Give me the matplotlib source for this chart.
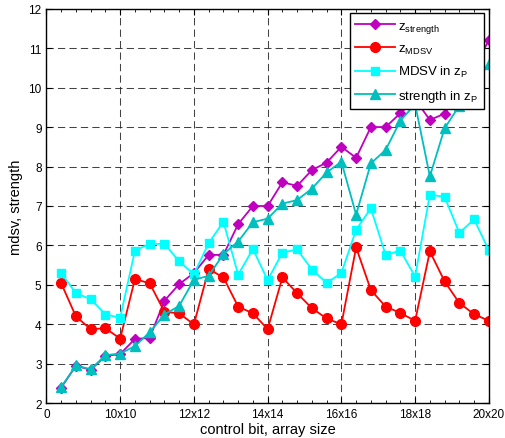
import matplotlib
matplotlib.use("Agg")
import matplotlib.pyplot as plt
from matplotlib.ticker import MultipleLocator

plt.rcParams['font.family'] = ['Liberation Sans', 'DejaVu Sans']
plt.rcParams['mathtext.fontset'] = 'custom'
plt.rcParams['mathtext.rm'] = 'Liberation Sans'
plt.rcParams['mathtext.it'] = 'Liberation Sans'

x = list(range(1, 31))
tick_positions = [0, 5, 10, 15, 20, 25, 30]
tick_labels = ['0', '10x10', '12x12', '14x14', '16x16', '18x18', '20x20']

z_strength = [2.4, 2.95, 2.85, 3.2, 3.25, 3.63, 3.66, 4.6, 5.02, 5.3,
              5.76, 5.76, 6.54, 7.0, 7.0, 7.6, 7.51, 7.91, 8.1, 8.5,
              8.22, 9.0, 9.0, 9.35, 9.7, 9.18, 9.34, 9.9, 10.5, 11.2]
z_mdsv = [5.04, 4.2, 3.88, 3.9, 3.64, 5.15, 5.04, 4.32, 4.28, 4.0,
          5.4, 5.19, 4.45, 4.28, 3.88, 5.19, 4.79, 4.41, 4.15, 4.0,
          5.95, 4.87, 4.45, 4.29, 4.09, 5.85, 5.09, 4.54, 4.26, 4.09]
mdsv_in_zp = [5.3, 4.79, 4.64, 4.25, 4.17, 5.87, 6.04, 6.04, 5.6, 5.27,
              6.06, 6.6, 5.26, 5.91, 5.12, 5.82, 5.9, 5.39, 5.05, 5.3,
              6.4, 6.94, 5.76, 5.87, 5.21, 7.29, 7.23, 6.32, 6.66, 5.88]
strength_in_zp = [2.41, 2.96, 2.86, 3.22, 3.26, 3.45, 3.8, 4.25, 4.47, 5.13,
                  5.23, 5.78, 6.1, 6.59, 6.68, 7.06, 7.15, 7.44, 7.85, 8.12,
                  6.78, 8.08, 8.42, 9.16, 9.58, 7.75, 8.97, 9.54, 10.1, 10.6]

fig = plt.figure(figsize=(5.05, 4.39), dpi=100)
ax = fig.add_axes([0.092, 0.079, 0.876, 0.899])

ax.plot(x, z_strength, color='#BF00BF', marker='D', markersize=5.2, lw=1.3,
        label=r'$\mathregular{z_{strength}}$')
ax.plot(x, z_mdsv, color='#FF0000', marker='o', markersize=7, lw=1.3,
        label=r'$\mathregular{z_{MDSV}}$')
ax.plot(x, mdsv_in_zp, color='#00FFFF', marker='s', markersize=6, lw=1.3,
        label=r'MDSV in $\mathregular{z_P}$')
ax.plot(x, strength_in_zp, color='#00BFBF', marker='^', markersize=7, lw=1.3,
        label=r'strength in $\mathregular{z_P}$')

ax.set_xlim(0, 30)
ax.set_ylim(2, 12)
ax.set_xticks(tick_positions)
ax.set_xticklabels(tick_labels)
ax.xaxis.set_minor_locator(MultipleLocator(1))
ax.set_yticks(range(2, 13))
ax.tick_params(which='both', direction='in', top=True, right=True, labelsize=8.5)
ax.tick_params(which='major', length=4)
ax.tick_params(which='minor', length=2.5)
ax.grid(True, which='major', color='#222222', linestyle=(0, (7, 4)), linewidth=0.75, alpha=0.85)
for s in ax.spines.values():
    s.set_linewidth(1.0)

ax.set_xlabel('control bit, array size', fontsize=10.5, labelpad=1)
ax.set_ylabel('mdsv, strength', fontsize=10.5, labelpad=4)

leg = ax.legend(loc='upper right', fontsize=9.5, handlelength=3.0, handletextpad=0.25,
                fancybox=False, framealpha=1, edgecolor='black', borderpad=0.45,
                labelspacing=0.62, borderaxespad=0.35)
leg.get_frame().set_linewidth(1.0)

fig.savefig('out.png', dpi=100)
